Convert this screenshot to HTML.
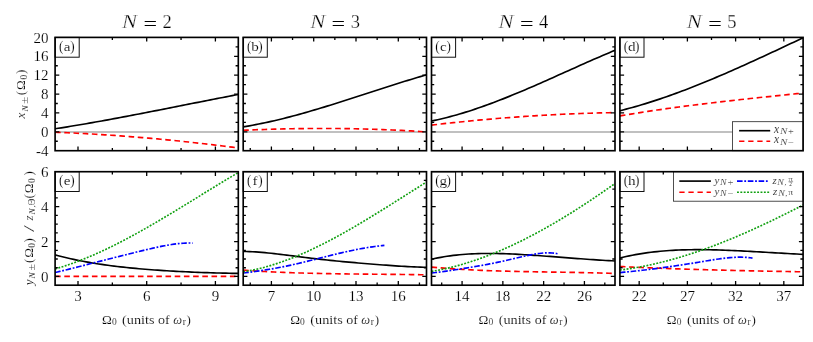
<!DOCTYPE html>
<html><head><meta charset="utf-8"><title>fig</title>
<style>html,body{margin:0;padding:0;background:#fff;}svg{display:block;will-change:transform;}</style></head>
<body>
<svg width="813" height="342" viewBox="0 0 813 342">
<rect width="813" height="342" fill="#fff"/>
<g font-family="Liberation Serif, serif" fill="#000" stroke="#fff" stroke-width="0.15">
<clipPath id="clipa"><rect x="55.1" y="37.4" width="183.2" height="113.3"/></clipPath>
<g clip-path="url(#clipa)" fill="none">
<line x1="55.1" x2="238.3" y1="132.12" y2="132.12" stroke="#c0c0c0" stroke-width="2"/>
<path d="M55.1 128.79 L58.21 128.3 L61.31 127.82 L64.42 127.32 L67.53 126.82 L70.63 126.31 L73.74 125.8 L76.85 125.28 L79.95 124.76 L83.06 124.23 L86.17 123.7 L89.27 123.16 L92.38 122.61 L95.49 122.06 L98.59 121.51 L101.7 120.95 L104.81 120.39 L107.92 119.82 L111.02 119.25 L114.13 118.67 L117.24 118.1 L120.34 117.51 L123.45 116.93 L126.56 116.34 L129.66 115.75 L132.77 115.16 L135.88 114.56 L138.98 113.96 L142.09 113.36 L145.2 112.75 L148.3 112.15 L151.41 111.54 L154.52 110.93 L157.62 110.32 L160.73 109.71 L163.84 109.1 L166.94 108.48 L170.05 107.87 L173.16 107.25 L176.26 106.63 L179.37 106.02 L182.48 105.4 L185.58 104.78 L188.69 104.17 L191.8 103.55 L194.91 102.93 L198.01 102.32 L201.12 101.7 L204.23 101.09 L207.33 100.48 L210.44 99.87 L213.55 99.26 L216.65 98.65 L219.76 98.04 L222.87 97.44 L225.97 96.83 L229.08 96.23 L232.19 95.63 L235.29 95.04 L238.4 94.45" stroke="#000" stroke-width="1.65"/>
<path d="M55.1 132.22 L58.21 132.35 L61.31 132.48 L64.42 132.61 L67.53 132.75 L70.63 132.89 L73.74 133.04 L76.85 133.2 L79.95 133.36 L83.06 133.52 L86.17 133.69 L89.27 133.86 L92.38 134.04 L95.49 134.23 L98.59 134.42 L101.7 134.61 L104.81 134.81 L107.92 135.01 L111.02 135.22 L114.13 135.43 L117.24 135.65 L120.34 135.87 L123.45 136.1 L126.56 136.34 L129.66 136.57 L132.77 136.82 L135.88 137.06 L138.98 137.32 L142.09 137.57 L145.2 137.84 L148.3 138.1 L151.41 138.38 L154.52 138.65 L157.62 138.94 L160.73 139.22 L163.84 139.52 L166.94 139.81 L170.05 140.12 L173.16 140.42 L176.26 140.73 L179.37 141.05 L182.48 141.37 L185.58 141.7 L188.69 142.03 L191.8 142.37 L194.91 142.71 L198.01 143.06 L201.12 143.41 L204.23 143.76 L207.33 144.13 L210.44 144.49 L213.55 144.86 L216.65 145.24 L219.76 145.62 L222.87 146.01 L225.97 146.4 L229.08 146.79 L232.19 147.19 L235.29 147.6 L238.4 148.01" stroke="#ff0000" stroke-width="1.65" stroke-dasharray="5.6 3.6"/>
</g>
<path d="M78 37.4 v4.2 M78 150.7 v-4.2 M146.7 37.4 v4.2 M146.7 150.7 v-4.2 M215.4 37.4 v4.2 M215.4 150.7 v-4.2 M112.35 37.4 v2.7 M112.35 150.7 v-2.7 M181.05 37.4 v2.7 M181.05 150.7 v-2.7 M55.1 131.82 h4.2 M238.3 131.82 h-4.2 M55.1 112.93 h4.2 M238.3 112.93 h-4.2 M55.1 94.05 h4.2 M238.3 94.05 h-4.2 M55.1 75.17 h4.2 M238.3 75.17 h-4.2 M55.1 56.28 h4.2 M238.3 56.28 h-4.2 M55.1 141.26 h2.7 M238.3 141.26 h-2.7 M55.1 122.38 h2.7 M238.3 122.38 h-2.7 M55.1 103.49 h2.7 M238.3 103.49 h-2.7 M55.1 84.61 h2.7 M238.3 84.61 h-2.7 M55.1 65.73 h2.7 M238.3 65.73 h-2.7 M55.1 46.84 h2.7 M238.3 46.84 h-2.7" stroke="#000" stroke-width="1.3" fill="none"/>
<rect x="55.1" y="37.4" width="24.1" height="19.8" fill="#fff" stroke="#111" stroke-width="1"/>
<text x="58.9" y="51.1" font-size="15.2" textLength="4.4" lengthAdjust="spacingAndGlyphs">(</text>
<text x="67" y="51" font-size="13.5" textLength="6.71" lengthAdjust="spacingAndGlyphs" text-anchor="middle">a</text>
<text x="70.2" y="51.1" font-size="15.2" textLength="4.4" lengthAdjust="spacingAndGlyphs">)</text>
<rect x="55.1" y="37.4" width="183.2" height="113.3" fill="none" stroke="#000" stroke-width="1.65"/>
<text x="122" y="28" font-size="19" font-style="italic" textLength="15" lengthAdjust="spacingAndGlyphs" stroke-width="0.3">N</text>
<text x="143.4" y="30" font-size="18" textLength="13.6" lengthAdjust="spacingAndGlyphs" stroke-width="0">=</text>
<text x="162.5" y="28" font-size="18.5" stroke-width="0.25">2</text>
<clipPath id="clipb"><rect x="243.2" y="37.4" width="183.3" height="113.3"/></clipPath>
<g clip-path="url(#clipb)" fill="none">
<line x1="243.2" x2="426.5" y1="132.12" y2="132.12" stroke="#c0c0c0" stroke-width="2"/>
<path d="M243.2 126.88 L246.31 126.36 L249.41 125.82 L252.52 125.25 L255.63 124.67 L258.73 124.06 L261.84 123.42 L264.95 122.77 L268.05 122.09 L271.16 121.4 L274.27 120.68 L277.37 119.95 L280.48 119.2 L283.59 118.43 L286.69 117.64 L289.8 116.84 L292.91 116.02 L296.02 115.18 L299.12 114.33 L302.23 113.47 L305.34 112.59 L308.44 111.71 L311.55 110.8 L314.66 109.89 L317.76 108.97 L320.87 108.04 L323.98 107.09 L327.08 106.14 L330.19 105.18 L333.3 104.22 L336.4 103.24 L339.51 102.26 L342.62 101.28 L345.72 100.29 L348.83 99.29 L351.94 98.29 L355.04 97.29 L358.15 96.28 L361.26 95.28 L364.36 94.27 L367.47 93.26 L370.58 92.25 L373.68 91.24 L376.79 90.23 L379.9 89.23 L383.01 88.23 L386.11 87.23 L389.22 86.23 L392.33 85.24 L395.43 84.25 L398.54 83.27 L401.65 82.3 L404.75 81.33 L407.86 80.37 L410.97 79.42 L414.07 78.47 L417.18 77.54 L420.29 76.61 L423.39 75.7 L426.5 74.8" stroke="#000" stroke-width="1.65"/>
<path d="M243.2 130.32 L246.31 130.18 L249.41 130.05 L252.52 129.92 L255.63 129.79 L258.73 129.67 L261.84 129.56 L264.95 129.45 L268.05 129.35 L271.16 129.25 L274.27 129.16 L277.37 129.07 L280.48 128.99 L283.59 128.92 L286.69 128.85 L289.8 128.78 L292.91 128.72 L296.02 128.67 L299.12 128.62 L302.23 128.58 L305.34 128.55 L308.44 128.52 L311.55 128.49 L314.66 128.47 L317.76 128.46 L320.87 128.45 L323.98 128.45 L327.08 128.46 L330.19 128.47 L333.3 128.49 L336.4 128.51 L339.51 128.54 L342.62 128.57 L345.72 128.62 L348.83 128.66 L351.94 128.72 L355.04 128.78 L358.15 128.84 L361.26 128.92 L364.36 128.99 L367.47 129.08 L370.58 129.17 L373.68 129.27 L376.79 129.37 L379.9 129.48 L383.01 129.6 L386.11 129.72 L389.22 129.85 L392.33 129.99 L395.43 130.13 L398.54 130.28 L401.65 130.44 L404.75 130.6 L407.86 130.77 L410.97 130.94 L414.07 131.13 L417.18 131.32 L420.29 131.51 L423.39 131.71 L426.5 131.92" stroke="#ff0000" stroke-width="1.65" stroke-dasharray="5.6 3.6"/>
</g>
<path d="M271.4 37.4 v4.2 M271.4 150.7 v-4.2 M313.7 37.4 v4.2 M313.7 150.7 v-4.2 M356 37.4 v4.2 M356 150.7 v-4.2 M398.3 37.4 v4.2 M398.3 150.7 v-4.2 M250.25 37.4 v2.7 M250.25 150.7 v-2.7 M292.55 37.4 v2.7 M292.55 150.7 v-2.7 M334.85 37.4 v2.7 M334.85 150.7 v-2.7 M377.15 37.4 v2.7 M377.15 150.7 v-2.7 M419.45 37.4 v2.7 M419.45 150.7 v-2.7 M243.2 131.82 h4.2 M426.5 131.82 h-4.2 M243.2 112.93 h4.2 M426.5 112.93 h-4.2 M243.2 94.05 h4.2 M426.5 94.05 h-4.2 M243.2 75.17 h4.2 M426.5 75.17 h-4.2 M243.2 56.28 h4.2 M426.5 56.28 h-4.2 M243.2 141.26 h2.7 M426.5 141.26 h-2.7 M243.2 122.38 h2.7 M426.5 122.38 h-2.7 M243.2 103.49 h2.7 M426.5 103.49 h-2.7 M243.2 84.61 h2.7 M426.5 84.61 h-2.7 M243.2 65.73 h2.7 M426.5 65.73 h-2.7 M243.2 46.84 h2.7 M426.5 46.84 h-2.7" stroke="#000" stroke-width="1.3" fill="none"/>
<rect x="243.2" y="37.4" width="24.1" height="19.8" fill="#fff" stroke="#111" stroke-width="1"/>
<text x="247" y="51.1" font-size="15.2" textLength="4.4" lengthAdjust="spacingAndGlyphs">(</text>
<text x="255.1" y="51" font-size="13.5" textLength="7.56" lengthAdjust="spacingAndGlyphs" text-anchor="middle">b</text>
<text x="258.3" y="51.1" font-size="15.2" textLength="4.4" lengthAdjust="spacingAndGlyphs">)</text>
<rect x="243.2" y="37.4" width="183.3" height="113.3" fill="none" stroke="#000" stroke-width="1.65"/>
<text x="310.15" y="28" font-size="19" font-style="italic" textLength="15" lengthAdjust="spacingAndGlyphs" stroke-width="0.3">N</text>
<text x="331.55" y="30" font-size="18" textLength="13.6" lengthAdjust="spacingAndGlyphs" stroke-width="0">=</text>
<text x="350.65" y="28" font-size="18.5" stroke-width="0.25">3</text>
<clipPath id="clipc"><rect x="431.5" y="37.4" width="183.5" height="113.3"/></clipPath>
<g clip-path="url(#clipc)" fill="none">
<line x1="431.5" x2="615" y1="132.12" y2="132.12" stroke="#c0c0c0" stroke-width="2"/>
<path d="M431.5 121.03 L434.61 120.39 L437.72 119.71 L440.83 119 L443.94 118.25 L447.05 117.47 L450.16 116.66 L453.27 115.82 L456.38 114.95 L459.49 114.05 L462.6 113.12 L465.71 112.16 L468.82 111.18 L471.93 110.17 L475.04 109.14 L478.15 108.08 L481.26 107 L484.37 105.9 L487.48 104.78 L490.59 103.63 L493.7 102.47 L496.81 101.28 L499.92 100.08 L503.03 98.86 L506.14 97.63 L509.25 96.37 L512.36 95.11 L515.47 93.83 L518.58 92.53 L521.69 91.23 L524.81 89.91 L527.92 88.58 L531.03 87.24 L534.14 85.89 L537.25 84.53 L540.36 83.17 L543.47 81.8 L546.58 80.42 L549.69 79.04 L552.8 77.65 L555.91 76.26 L559.02 74.87 L562.13 73.47 L565.24 72.08 L568.35 70.68 L571.46 69.28 L574.57 67.89 L577.68 66.5 L580.79 65.11 L583.9 63.73 L587.01 62.35 L590.12 60.97 L593.23 59.6 L596.34 58.24 L599.45 56.89 L602.56 55.55 L605.67 54.21 L608.78 52.89 L611.89 51.58 L615 50.28" stroke="#000" stroke-width="1.65"/>
<path d="M431.5 125.12 L434.61 124.76 L437.72 124.4 L440.83 124.04 L443.94 123.69 L447.05 123.35 L450.16 123.01 L453.27 122.68 L456.38 122.35 L459.49 122.03 L462.6 121.71 L465.71 121.4 L468.82 121.09 L471.93 120.78 L475.04 120.49 L478.15 120.19 L481.26 119.91 L484.37 119.63 L487.48 119.35 L490.59 119.08 L493.7 118.81 L496.81 118.55 L499.92 118.29 L503.03 118.04 L506.14 117.8 L509.25 117.56 L512.36 117.32 L515.47 117.09 L518.58 116.87 L521.69 116.65 L524.81 116.44 L527.92 116.23 L531.03 116.02 L534.14 115.83 L537.25 115.63 L540.36 115.45 L543.47 115.27 L546.58 115.09 L549.69 114.92 L552.8 114.75 L555.91 114.59 L559.02 114.44 L562.13 114.29 L565.24 114.15 L568.35 114.01 L571.46 113.88 L574.57 113.75 L577.68 113.63 L580.79 113.51 L583.9 113.4 L587.01 113.3 L590.12 113.2 L593.23 113.1 L596.34 113.01 L599.45 112.93 L602.56 112.85 L605.67 112.78 L608.78 112.72 L611.89 112.66 L615 112.6" stroke="#ff0000" stroke-width="1.65" stroke-dasharray="5.6 3.6"/>
</g>
<path d="M462.08 37.4 v4.2 M462.08 150.7 v-4.2 M502.86 37.4 v4.2 M502.86 150.7 v-4.2 M543.64 37.4 v4.2 M543.64 150.7 v-4.2 M584.42 37.4 v4.2 M584.42 150.7 v-4.2 M441.69 37.4 v2.7 M441.69 150.7 v-2.7 M482.47 37.4 v2.7 M482.47 150.7 v-2.7 M523.25 37.4 v2.7 M523.25 150.7 v-2.7 M564.03 37.4 v2.7 M564.03 150.7 v-2.7 M604.81 37.4 v2.7 M604.81 150.7 v-2.7 M431.5 131.82 h4.2 M615 131.82 h-4.2 M431.5 112.93 h4.2 M615 112.93 h-4.2 M431.5 94.05 h4.2 M615 94.05 h-4.2 M431.5 75.17 h4.2 M615 75.17 h-4.2 M431.5 56.28 h4.2 M615 56.28 h-4.2 M431.5 141.26 h2.7 M615 141.26 h-2.7 M431.5 122.38 h2.7 M615 122.38 h-2.7 M431.5 103.49 h2.7 M615 103.49 h-2.7 M431.5 84.61 h2.7 M615 84.61 h-2.7 M431.5 65.73 h2.7 M615 65.73 h-2.7 M431.5 46.84 h2.7 M615 46.84 h-2.7" stroke="#000" stroke-width="1.3" fill="none"/>
<rect x="431.5" y="37.4" width="24.1" height="19.8" fill="#fff" stroke="#111" stroke-width="1"/>
<text x="435.3" y="51.1" font-size="15.2" textLength="4.4" lengthAdjust="spacingAndGlyphs">(</text>
<text x="443.4" y="51" font-size="13.5" textLength="6.71" lengthAdjust="spacingAndGlyphs" text-anchor="middle">c</text>
<text x="446.6" y="51.1" font-size="15.2" textLength="4.4" lengthAdjust="spacingAndGlyphs">)</text>
<rect x="431.5" y="37.4" width="183.5" height="113.3" fill="none" stroke="#000" stroke-width="1.65"/>
<text x="498.55" y="28" font-size="19" font-style="italic" textLength="15" lengthAdjust="spacingAndGlyphs" stroke-width="0.3">N</text>
<text x="519.95" y="30" font-size="18" textLength="13.6" lengthAdjust="spacingAndGlyphs" stroke-width="0">=</text>
<text x="539.05" y="28" font-size="18.5" stroke-width="0.25">4</text>
<clipPath id="clipd"><rect x="619.9" y="37.4" width="183.2" height="113.3"/></clipPath>
<g clip-path="url(#clipd)" fill="none">
<line x1="619.9" x2="803.1" y1="132.12" y2="132.12" stroke="#c0c0c0" stroke-width="2"/>
<path d="M619.9 110.71 L623.01 109.93 L626.11 109.13 L629.22 108.31 L632.32 107.46 L635.43 106.59 L638.53 105.7 L641.64 104.78 L644.74 103.85 L647.85 102.89 L650.95 101.91 L654.06 100.91 L657.16 99.89 L660.27 98.86 L663.37 97.8 L666.48 96.73 L669.58 95.63 L672.69 94.52 L675.79 93.4 L678.9 92.25 L682 91.09 L685.11 89.92 L688.21 88.73 L691.32 87.52 L694.42 86.3 L697.53 85.06 L700.63 83.81 L703.74 82.55 L706.84 81.28 L709.95 79.99 L713.05 78.69 L716.16 77.38 L719.26 76.06 L722.37 74.73 L725.47 73.39 L728.58 72.03 L731.68 70.67 L734.79 69.3 L737.89 67.92 L741 66.54 L744.1 65.14 L747.21 63.74 L750.31 62.33 L753.42 60.92 L756.52 59.5 L759.63 58.07 L762.73 56.64 L765.84 55.21 L768.94 53.77 L772.05 52.33 L775.15 50.88 L778.26 49.43 L781.36 47.98 L784.47 46.53 L787.57 45.07 L790.68 43.62 L793.78 42.16 L796.89 40.71 L799.99 39.25 L803.1 37.79" stroke="#000" stroke-width="1.65"/>
<path d="M619.9 115.91 L623.01 115.38 L626.11 114.86 L629.22 114.35 L632.32 113.84 L635.43 113.34 L638.53 112.85 L641.64 112.36 L644.74 111.88 L647.85 111.41 L650.95 110.94 L654.06 110.48 L657.16 110.03 L660.27 109.58 L663.37 109.13 L666.48 108.69 L669.58 108.26 L672.69 107.84 L675.79 107.41 L678.9 107 L682 106.58 L685.11 106.18 L688.21 105.78 L691.32 105.38 L694.42 104.98 L697.53 104.6 L700.63 104.21 L703.74 103.83 L706.84 103.45 L709.95 103.08 L713.05 102.71 L716.16 102.35 L719.26 101.98 L722.37 101.62 L725.47 101.27 L728.58 100.92 L731.68 100.57 L734.79 100.22 L737.89 99.88 L741 99.54 L744.1 99.2 L747.21 98.86 L750.31 98.53 L753.42 98.19 L756.52 97.86 L759.63 97.54 L762.73 97.21 L765.84 96.88 L768.94 96.56 L772.05 96.24 L775.15 95.92 L778.26 95.6 L781.36 95.28 L784.47 94.96 L787.57 94.64 L790.68 94.33 L793.78 94.01 L796.89 93.69 L799.99 93.38 L803.1 93.06" stroke="#ff0000" stroke-width="1.65" stroke-dasharray="5.6 3.6"/>
</g>
<path d="M639.18 37.4 v4.2 M639.18 150.7 v-4.2 M687.39 37.4 v4.2 M687.39 150.7 v-4.2 M735.61 37.4 v4.2 M735.61 150.7 v-4.2 M783.82 37.4 v4.2 M783.82 150.7 v-4.2 M663.29 37.4 v2.7 M663.29 150.7 v-2.7 M711.5 37.4 v2.7 M711.5 150.7 v-2.7 M759.71 37.4 v2.7 M759.71 150.7 v-2.7 M619.9 131.82 h4.2 M803.1 131.82 h-4.2 M619.9 112.93 h4.2 M803.1 112.93 h-4.2 M619.9 94.05 h4.2 M803.1 94.05 h-4.2 M619.9 75.17 h4.2 M803.1 75.17 h-4.2 M619.9 56.28 h4.2 M803.1 56.28 h-4.2 M619.9 141.26 h2.7 M803.1 141.26 h-2.7 M619.9 122.38 h2.7 M803.1 122.38 h-2.7 M619.9 103.49 h2.7 M803.1 103.49 h-2.7 M619.9 84.61 h2.7 M803.1 84.61 h-2.7 M619.9 65.73 h2.7 M803.1 65.73 h-2.7 M619.9 46.84 h2.7 M803.1 46.84 h-2.7" stroke="#000" stroke-width="1.3" fill="none"/>
<rect x="732.4" y="121.7" width="70.7" height="29" fill="#fff" stroke="#222" stroke-width="0.8"/>
<rect x="619.9" y="37.4" width="24.1" height="19.8" fill="#fff" stroke="#111" stroke-width="1"/>
<text x="623.7" y="51.1" font-size="15.2" textLength="4.4" lengthAdjust="spacingAndGlyphs">(</text>
<text x="631.8" y="51" font-size="13.5" textLength="7.56" lengthAdjust="spacingAndGlyphs" text-anchor="middle">d</text>
<text x="635" y="51.1" font-size="15.2" textLength="4.4" lengthAdjust="spacingAndGlyphs">)</text>
<rect x="619.9" y="37.4" width="183.2" height="113.3" fill="none" stroke="#000" stroke-width="1.65"/>
<text x="686.8" y="28" font-size="19" font-style="italic" textLength="15" lengthAdjust="spacingAndGlyphs" stroke-width="0.3">N</text>
<text x="708.2" y="30" font-size="18" textLength="13.6" lengthAdjust="spacingAndGlyphs" stroke-width="0">=</text>
<text x="727.3" y="28" font-size="18.5" stroke-width="0.25">5</text>
<text x="48.6" y="155.8" font-size="15" text-anchor="end">-4</text>
<text x="48.6" y="136.92" font-size="15" text-anchor="end">0</text>
<text x="48.6" y="118.03" font-size="15" text-anchor="end">4</text>
<text x="48.6" y="99.15" font-size="15" text-anchor="end">8</text>
<text x="48.6" y="80.27" font-size="15" text-anchor="end">12</text>
<text x="48.6" y="61.38" font-size="15" text-anchor="end">16</text>
<text x="48.6" y="42.5" font-size="15" text-anchor="end">20</text>
<clipPath id="clipe"><rect x="55.1" y="171.7" width="183.2" height="113.5"/></clipPath>
<g clip-path="url(#clipe)" fill="none">
<path d="M55.1 254.92 L58.21 255.75 L61.31 256.55 L64.42 257.31 L67.53 258.05 L70.63 258.75 L73.74 259.43 L76.85 260.08 L79.95 260.71 L83.06 261.3 L86.17 261.88 L89.27 262.43 L92.38 262.96 L95.49 263.46 L98.59 263.95 L101.7 264.41 L104.81 264.86 L107.92 265.29 L111.02 265.7 L114.13 266.09 L117.24 266.47 L120.34 266.83 L123.45 267.17 L126.56 267.51 L129.66 267.82 L132.77 268.13 L135.88 268.42 L138.98 268.7 L142.09 268.97 L145.2 269.23 L148.3 269.48 L151.41 269.72 L154.52 269.95 L157.62 270.17 L160.73 270.38 L163.84 270.58 L166.94 270.78 L170.05 270.97 L173.16 271.15 L176.26 271.32 L179.37 271.48 L182.48 271.64 L185.58 271.79 L188.69 271.94 L191.8 272.08 L194.91 272.21 L198.01 272.33 L201.12 272.45 L204.23 272.57 L207.33 272.68 L210.44 272.78 L213.55 272.87 L216.65 272.96 L219.76 273.05 L222.87 273.12 L225.97 273.19 L229.08 273.25 L232.19 273.31 L235.29 273.36 L238.4 273.4" stroke="#000" stroke-width="1.65"/>
<path d="M55.1 276.4 L58.21 276.4 L61.31 276.4 L64.42 276.4 L67.53 276.4 L70.63 276.4 L73.74 276.4 L76.85 276.4 L79.95 276.4 L83.06 276.4 L86.17 276.4 L89.27 276.4 L92.38 276.4 L95.49 276.4 L98.59 276.4 L101.7 276.4 L104.81 276.4 L107.92 276.4 L111.02 276.4 L114.13 276.4 L117.24 276.4 L120.34 276.4 L123.45 276.4 L126.56 276.4 L129.66 276.4 L132.77 276.4 L135.88 276.4 L138.98 276.4 L142.09 276.4 L145.2 276.4 L148.3 276.4 L151.41 276.4 L154.52 276.4 L157.62 276.4 L160.73 276.4 L163.84 276.4 L166.94 276.4 L170.05 276.4 L173.16 276.4 L176.26 276.4 L179.37 276.4 L182.48 276.4 L185.58 276.4 L188.69 276.4 L191.8 276.4 L194.91 276.4 L198.01 276.4 L201.12 276.4 L204.23 276.4 L207.33 276.4 L210.44 276.4 L213.55 276.4 L216.65 276.4 L219.76 276.4 L222.87 276.4 L225.97 276.4 L229.08 276.4 L232.19 276.4 L235.29 276.4 L238.4 276.4" stroke="#ff0000" stroke-width="1.65" stroke-dasharray="5.6 3.6"/>
<path d="M55.1 272.48 L57.43 271.96 L59.76 271.42 L62.09 270.87 L64.42 270.3 L66.75 269.73 L69.08 269.16 L71.41 268.57 L73.74 267.99 L76.07 267.39 L78.41 266.8 L80.74 266.2 L83.07 265.61 L85.4 265.01 L87.73 264.41 L90.06 263.81 L92.39 263.21 L94.72 262.61 L97.05 262.02 L99.38 261.42 L101.71 260.83 L104.04 260.23 L106.37 259.64 L108.7 259.05 L111.03 258.46 L113.36 257.87 L115.69 257.28 L118.02 256.69 L120.35 256.1 L122.68 255.52 L125.02 254.93 L127.35 254.35 L129.68 253.77 L132.01 253.19 L134.34 252.61 L136.67 252.03 L139 251.46 L141.33 250.9 L143.66 250.34 L145.99 249.78 L148.32 249.23 L150.65 248.69 L152.98 248.16 L155.31 247.65 L157.64 247.14 L159.97 246.65 L162.3 246.18 L164.63 245.73 L166.96 245.3 L169.29 244.9 L171.63 244.52 L173.96 244.18 L176.29 243.87 L178.62 243.6 L180.95 243.38 L183.28 243.2 L185.61 243.08 L187.94 243.01 L190.27 243.01 L192.6 243.07" stroke="#0000ff" stroke-width="1.65" stroke-dasharray="5.6 1.7 1.8 1.7"/>
<path d="M55.1 268.9 L58.21 268 L61.31 267.06 L64.42 266.08 L67.53 265.05 L70.63 263.98 L73.74 262.88 L76.85 261.73 L79.95 260.55 L83.06 259.33 L86.17 258.07 L89.27 256.78 L92.38 255.45 L95.49 254.09 L98.59 252.7 L101.7 251.28 L104.81 249.83 L107.92 248.35 L111.02 246.84 L114.13 245.3 L117.24 243.73 L120.34 242.15 L123.45 240.53 L126.56 238.89 L129.66 237.24 L132.77 235.55 L135.88 233.85 L138.98 232.13 L142.09 230.39 L145.2 228.63 L148.3 226.86 L151.41 225.07 L154.52 223.26 L157.62 221.45 L160.73 219.61 L163.84 217.77 L166.94 215.92 L170.05 214.05 L173.16 212.18 L176.26 210.3 L179.37 208.41 L182.48 206.51 L185.58 204.62 L188.69 202.71 L191.8 200.81 L194.91 198.9 L198.01 196.99 L201.12 195.08 L204.23 193.17 L207.33 191.26 L210.44 189.35 L213.55 187.45 L216.65 185.55 L219.76 183.66 L222.87 181.78 L225.97 179.9 L229.08 178.03 L232.19 176.17 L235.29 174.32 L238.4 172.48" stroke="#10a010" stroke-width="1.65" stroke-dasharray="1.9 1.46"/>
</g>
<path d="M78 171.7 v4.2 M78 285.2 v-4.2 M146.7 171.7 v4.2 M146.7 285.2 v-4.2 M215.4 171.7 v4.2 M215.4 285.2 v-4.2 M112.35 171.7 v2.7 M112.35 285.2 v-2.7 M181.05 171.7 v2.7 M181.05 285.2 v-2.7 M55.1 276.47 h4.2 M238.3 276.47 h-4.2 M55.1 241.55 h4.2 M238.3 241.55 h-4.2 M55.1 206.62 h4.2 M238.3 206.62 h-4.2 M55.1 267.74 h2.7 M238.3 267.74 h-2.7 M55.1 259.01 h2.7 M238.3 259.01 h-2.7 M55.1 250.28 h2.7 M238.3 250.28 h-2.7 M55.1 232.82 h2.7 M238.3 232.82 h-2.7 M55.1 224.08 h2.7 M238.3 224.08 h-2.7 M55.1 215.35 h2.7 M238.3 215.35 h-2.7 M55.1 197.89 h2.7 M238.3 197.89 h-2.7 M55.1 189.16 h2.7 M238.3 189.16 h-2.7 M55.1 180.43 h2.7 M238.3 180.43 h-2.7" stroke="#000" stroke-width="1.3" fill="none"/>
<rect x="55.1" y="171.7" width="24.1" height="19.8" fill="#fff" stroke="#111" stroke-width="1"/>
<text x="58.9" y="185.4" font-size="15.2" textLength="4.4" lengthAdjust="spacingAndGlyphs">(</text>
<text x="67" y="185.3" font-size="13.5" textLength="6.71" lengthAdjust="spacingAndGlyphs" text-anchor="middle">e</text>
<text x="70.2" y="185.4" font-size="15.2" textLength="4.4" lengthAdjust="spacingAndGlyphs">)</text>
<rect x="55.1" y="171.7" width="183.2" height="113.5" fill="none" stroke="#000" stroke-width="1.65"/>
<text x="78" y="301.2" font-size="15" text-anchor="middle">3</text>
<text x="146.7" y="301.2" font-size="15" text-anchor="middle">6</text>
<text x="215.4" y="301.2" font-size="15" text-anchor="middle">9</text>
<text x="102" y="323.5" font-size="13.2">Ω</text>
<text x="111.9" y="325.3" font-size="9.5">0</text>
<text x="122.1" y="323.5" font-size="13" textLength="32.5" lengthAdjust="spacingAndGlyphs">(units</text>
<text x="158.1" y="323.5" font-size="13" textLength="11.7" lengthAdjust="spacingAndGlyphs">of</text>
<text x="173.2" y="323.5" font-size="13" font-style="italic" textLength="8.8" lengthAdjust="spacingAndGlyphs">ω</text>
<text x="182.7" y="325.3" font-size="9.5">r</text>
<text x="186.6" y="323.5" font-size="13">)</text>
<clipPath id="clipf"><rect x="243.2" y="171.7" width="183.3" height="113.5"/></clipPath>
<g clip-path="url(#clipf)" fill="none">
<path d="M243.2 251.48 L246.31 251.5 L249.41 251.59 L252.52 251.72 L255.63 251.9 L258.73 252.12 L261.84 252.37 L264.95 252.66 L268.05 252.97 L271.16 253.3 L274.27 253.65 L277.37 254.01 L280.48 254.39 L283.59 254.77 L286.69 255.16 L289.8 255.55 L292.91 255.94 L296.02 256.34 L299.12 256.73 L302.23 257.11 L305.34 257.5 L308.44 257.88 L311.55 258.25 L314.66 258.61 L317.76 258.97 L320.87 259.32 L323.98 259.66 L327.08 260 L330.19 260.33 L333.3 260.65 L336.4 260.96 L339.51 261.26 L342.62 261.56 L345.72 261.85 L348.83 262.14 L351.94 262.42 L355.04 262.69 L358.15 262.96 L361.26 263.23 L364.36 263.49 L367.47 263.74 L370.58 263.99 L373.68 264.24 L376.79 264.49 L379.9 264.73 L383.01 264.96 L386.11 265.19 L389.22 265.42 L392.33 265.64 L395.43 265.85 L398.54 266.06 L401.65 266.25 L404.75 266.44 L407.86 266.61 L410.97 266.77 L414.07 266.92 L417.18 267.04 L420.29 267.15 L423.39 267.23 L426.5 267.28" stroke="#000" stroke-width="1.65"/>
<path d="M243.2 270.1 L246.31 270.32 L249.41 270.54 L252.52 270.75 L255.63 270.95 L258.73 271.14 L261.84 271.32 L264.95 271.5 L268.05 271.66 L271.16 271.82 L274.27 271.97 L277.37 272.12 L280.48 272.26 L283.59 272.39 L286.69 272.51 L289.8 272.63 L292.91 272.74 L296.02 272.85 L299.12 272.95 L302.23 273.04 L305.34 273.13 L308.44 273.21 L311.55 273.29 L314.66 273.37 L317.76 273.44 L320.87 273.5 L323.98 273.57 L327.08 273.62 L330.19 273.68 L333.3 273.73 L336.4 273.78 L339.51 273.83 L342.62 273.87 L345.72 273.91 L348.83 273.95 L351.94 273.98 L355.04 274.02 L358.15 274.05 L361.26 274.08 L364.36 274.11 L367.47 274.14 L370.58 274.17 L373.68 274.2 L376.79 274.23 L379.9 274.25 L383.01 274.28 L386.11 274.31 L389.22 274.34 L392.33 274.37 L395.43 274.4 L398.54 274.43 L401.65 274.46 L404.75 274.5 L407.86 274.53 L410.97 274.57 L414.07 274.61 L417.18 274.66 L420.29 274.7 L423.39 274.75 L426.5 274.81" stroke="#ff0000" stroke-width="1.65" stroke-dasharray="5.6 3.6"/>
<path d="M243.2 273.02 L245.59 272.72 L247.99 272.41 L250.38 272.09 L252.77 271.77 L255.17 271.45 L257.56 271.11 L259.95 270.77 L262.35 270.41 L264.74 270.04 L267.13 269.66 L269.53 269.27 L271.92 268.86 L274.31 268.44 L276.71 268 L279.1 267.55 L281.49 267.09 L283.88 266.61 L286.28 266.12 L288.67 265.61 L291.06 265.09 L293.46 264.56 L295.85 264.02 L298.24 263.47 L300.64 262.9 L303.03 262.33 L305.42 261.75 L307.82 261.16 L310.21 260.57 L312.6 259.97 L315 259.37 L317.39 258.76 L319.78 258.15 L322.18 257.55 L324.57 256.94 L326.96 256.34 L329.36 255.74 L331.75 255.14 L334.14 254.55 L336.54 253.97 L338.93 253.39 L341.32 252.83 L343.72 252.27 L346.11 251.73 L348.5 251.2 L350.89 250.69 L353.29 250.19 L355.68 249.7 L358.07 249.23 L360.47 248.78 L362.86 248.35 L365.25 247.94 L367.65 247.55 L370.04 247.17 L372.43 246.82 L374.83 246.49 L377.22 246.18 L379.61 245.89 L382.01 245.62 L384.4 245.37" stroke="#0000ff" stroke-width="1.65" stroke-dasharray="5.6 1.7 1.8 1.7"/>
<path d="M243.2 271.81 L246.31 271.3 L249.41 270.74 L252.52 270.13 L255.63 269.46 L258.73 268.74 L261.84 267.97 L264.95 267.15 L268.05 266.28 L271.16 265.36 L274.27 264.4 L277.37 263.39 L280.48 262.33 L283.59 261.23 L286.69 260.09 L289.8 258.91 L292.91 257.69 L296.02 256.43 L299.12 255.13 L302.23 253.79 L305.34 252.42 L308.44 251.01 L311.55 249.57 L314.66 248.09 L317.76 246.58 L320.87 245.05 L323.98 243.48 L327.08 241.88 L330.19 240.26 L333.3 238.61 L336.4 236.93 L339.51 235.23 L342.62 233.51 L345.72 231.76 L348.83 230 L351.94 228.21 L355.04 226.4 L358.15 224.58 L361.26 222.74 L364.36 220.88 L367.47 219.01 L370.58 217.12 L373.68 215.22 L376.79 213.31 L379.9 211.39 L383.01 209.46 L386.11 207.52 L389.22 205.58 L392.33 203.62 L395.43 201.67 L398.54 199.7 L401.65 197.74 L404.75 195.77 L407.86 193.8 L410.97 191.83 L414.07 189.86 L417.18 187.9 L420.29 185.94 L423.39 183.98 L426.5 182.02" stroke="#10a010" stroke-width="1.65" stroke-dasharray="1.9 1.46"/>
</g>
<path d="M271.4 171.7 v4.2 M271.4 285.2 v-4.2 M313.7 171.7 v4.2 M313.7 285.2 v-4.2 M356 171.7 v4.2 M356 285.2 v-4.2 M398.3 171.7 v4.2 M398.3 285.2 v-4.2 M250.25 171.7 v2.7 M250.25 285.2 v-2.7 M292.55 171.7 v2.7 M292.55 285.2 v-2.7 M334.85 171.7 v2.7 M334.85 285.2 v-2.7 M377.15 171.7 v2.7 M377.15 285.2 v-2.7 M419.45 171.7 v2.7 M419.45 285.2 v-2.7 M243.2 276.47 h4.2 M426.5 276.47 h-4.2 M243.2 241.55 h4.2 M426.5 241.55 h-4.2 M243.2 206.62 h4.2 M426.5 206.62 h-4.2 M243.2 267.74 h2.7 M426.5 267.74 h-2.7 M243.2 259.01 h2.7 M426.5 259.01 h-2.7 M243.2 250.28 h2.7 M426.5 250.28 h-2.7 M243.2 232.82 h2.7 M426.5 232.82 h-2.7 M243.2 224.08 h2.7 M426.5 224.08 h-2.7 M243.2 215.35 h2.7 M426.5 215.35 h-2.7 M243.2 197.89 h2.7 M426.5 197.89 h-2.7 M243.2 189.16 h2.7 M426.5 189.16 h-2.7 M243.2 180.43 h2.7 M426.5 180.43 h-2.7" stroke="#000" stroke-width="1.3" fill="none"/>
<rect x="243.2" y="171.7" width="24.1" height="19.8" fill="#fff" stroke="#111" stroke-width="1"/>
<text x="247" y="185.4" font-size="15.2" textLength="4.4" lengthAdjust="spacingAndGlyphs">(</text>
<text x="255.1" y="185.3" font-size="13.5" textLength="5.03" lengthAdjust="spacingAndGlyphs" text-anchor="middle">f</text>
<text x="258.3" y="185.4" font-size="15.2" textLength="4.4" lengthAdjust="spacingAndGlyphs">)</text>
<rect x="243.2" y="171.7" width="183.3" height="113.5" fill="none" stroke="#000" stroke-width="1.65"/>
<text x="271.4" y="301.2" font-size="15" text-anchor="middle">7</text>
<text x="313.7" y="301.2" font-size="15" text-anchor="middle">10</text>
<text x="356" y="301.2" font-size="15" text-anchor="middle">13</text>
<text x="398.3" y="301.2" font-size="15" text-anchor="middle">16</text>
<text x="290.15" y="323.5" font-size="13.2">Ω</text>
<text x="300.05" y="325.3" font-size="9.5">0</text>
<text x="310.25" y="323.5" font-size="13" textLength="32.5" lengthAdjust="spacingAndGlyphs">(units</text>
<text x="346.25" y="323.5" font-size="13" textLength="11.7" lengthAdjust="spacingAndGlyphs">of</text>
<text x="361.35" y="323.5" font-size="13" font-style="italic" textLength="8.8" lengthAdjust="spacingAndGlyphs">ω</text>
<text x="370.85" y="325.3" font-size="9.5">r</text>
<text x="374.75" y="323.5" font-size="13">)</text>
<clipPath id="clipg"><rect x="431.5" y="171.7" width="183.5" height="113.5"/></clipPath>
<g clip-path="url(#clipg)" fill="none">
<path d="M431.5 259.25 L434.61 258.55 L437.72 257.91 L440.83 257.32 L443.94 256.78 L447.05 256.29 L450.16 255.84 L453.27 255.44 L456.38 255.09 L459.49 254.77 L462.6 254.49 L465.71 254.25 L468.82 254.04 L471.93 253.87 L475.04 253.73 L478.15 253.63 L481.26 253.55 L484.37 253.5 L487.48 253.47 L490.59 253.47 L493.7 253.49 L496.81 253.54 L499.92 253.6 L503.03 253.69 L506.14 253.79 L509.25 253.91 L512.36 254.04 L515.47 254.19 L518.58 254.35 L521.69 254.52 L524.81 254.71 L527.92 254.9 L531.03 255.1 L534.14 255.31 L537.25 255.53 L540.36 255.75 L543.47 255.98 L546.58 256.21 L549.69 256.44 L552.8 256.68 L555.91 256.92 L559.02 257.16 L562.13 257.4 L565.24 257.64 L568.35 257.87 L571.46 258.11 L574.57 258.34 L577.68 258.57 L580.79 258.8 L583.9 259.03 L587.01 259.24 L590.12 259.46 L593.23 259.67 L596.34 259.87 L599.45 260.07 L602.56 260.26 L605.67 260.45 L608.78 260.63 L611.89 260.8 L615 260.97" stroke="#000" stroke-width="1.65"/>
<path d="M431.5 267.11 L434.61 267.39 L437.72 267.66 L440.83 267.92 L443.94 268.16 L447.05 268.4 L450.16 268.62 L453.27 268.84 L456.38 269.04 L459.49 269.23 L462.6 269.42 L465.71 269.59 L468.82 269.76 L471.93 269.92 L475.04 270.07 L478.15 270.21 L481.26 270.35 L484.37 270.47 L487.48 270.59 L490.59 270.71 L493.7 270.81 L496.81 270.92 L499.92 271.01 L503.03 271.1 L506.14 271.19 L509.25 271.27 L512.36 271.35 L515.47 271.42 L518.58 271.49 L521.69 271.55 L524.81 271.61 L527.92 271.67 L531.03 271.73 L534.14 271.78 L537.25 271.84 L540.36 271.89 L543.47 271.94 L546.58 271.99 L549.69 272.04 L552.8 272.09 L555.91 272.13 L559.02 272.18 L562.13 272.23 L565.24 272.28 L568.35 272.34 L571.46 272.39 L574.57 272.44 L577.68 272.5 L580.79 272.56 L583.9 272.63 L587.01 272.69 L590.12 272.76 L593.23 272.84 L596.34 272.92 L599.45 273 L602.56 273.09 L605.67 273.18 L608.78 273.28 L611.89 273.38 L615 273.49" stroke="#ff0000" stroke-width="1.65" stroke-dasharray="5.6 3.6"/>
<path d="M431.5 272.99 L433.65 272.77 L435.81 272.52 L437.96 272.26 L440.12 271.99 L442.27 271.7 L444.43 271.4 L446.58 271.09 L448.73 270.77 L450.89 270.45 L453.04 270.12 L455.2 269.79 L457.35 269.46 L459.51 269.12 L461.66 268.77 L463.81 268.43 L465.97 268.08 L468.12 267.73 L470.28 267.37 L472.43 267.01 L474.58 266.65 L476.74 266.28 L478.89 265.9 L481.05 265.52 L483.2 265.13 L485.36 264.73 L487.51 264.32 L489.66 263.91 L491.82 263.48 L493.97 263.05 L496.13 262.61 L498.28 262.16 L500.44 261.7 L502.59 261.23 L504.74 260.75 L506.9 260.26 L509.05 259.77 L511.21 259.27 L513.36 258.77 L515.52 258.26 L517.67 257.76 L519.82 257.26 L521.98 256.76 L524.13 256.28 L526.29 255.8 L528.44 255.34 L530.59 254.91 L532.75 254.49 L534.9 254.11 L537.06 253.77 L539.21 253.47 L541.37 253.22 L543.52 253.02 L545.67 252.89 L547.83 252.84 L549.98 252.87 L552.14 252.99 L554.29 253.21 L556.45 253.55 L558.6 254.01" stroke="#0000ff" stroke-width="1.65" stroke-dasharray="5.6 1.7 1.8 1.7"/>
<path d="M431.5 271.39 L434.61 270.85 L437.72 270.27 L440.83 269.65 L443.94 269 L447.05 268.3 L450.16 267.56 L453.27 266.78 L456.38 265.97 L459.49 265.11 L462.6 264.22 L465.71 263.29 L468.82 262.33 L471.93 261.33 L475.04 260.29 L478.15 259.22 L481.26 258.11 L484.37 256.97 L487.48 255.79 L490.59 254.58 L493.7 253.34 L496.81 252.06 L499.92 250.75 L503.03 249.41 L506.14 248.03 L509.25 246.63 L512.36 245.2 L515.47 243.73 L518.58 242.24 L521.69 240.71 L524.81 239.16 L527.92 237.58 L531.03 235.97 L534.14 234.33 L537.25 232.67 L540.36 230.97 L543.47 229.26 L546.58 227.51 L549.69 225.74 L552.8 223.95 L555.91 222.13 L559.02 220.29 L562.13 218.42 L565.24 216.53 L568.35 214.62 L571.46 212.68 L574.57 210.72 L577.68 208.75 L580.79 206.75 L583.9 204.73 L587.01 202.68 L590.12 200.62 L593.23 198.54 L596.34 196.44 L599.45 194.33 L602.56 192.19 L605.67 190.04 L608.78 187.87 L611.89 185.68 L615 183.48" stroke="#10a010" stroke-width="1.65" stroke-dasharray="1.9 1.46"/>
</g>
<path d="M462.08 171.7 v4.2 M462.08 285.2 v-4.2 M502.86 171.7 v4.2 M502.86 285.2 v-4.2 M543.64 171.7 v4.2 M543.64 285.2 v-4.2 M584.42 171.7 v4.2 M584.42 285.2 v-4.2 M441.69 171.7 v2.7 M441.69 285.2 v-2.7 M482.47 171.7 v2.7 M482.47 285.2 v-2.7 M523.25 171.7 v2.7 M523.25 285.2 v-2.7 M564.03 171.7 v2.7 M564.03 285.2 v-2.7 M604.81 171.7 v2.7 M604.81 285.2 v-2.7 M431.5 276.47 h4.2 M615 276.47 h-4.2 M431.5 241.55 h4.2 M615 241.55 h-4.2 M431.5 206.62 h4.2 M615 206.62 h-4.2 M431.5 259.01 h2.7 M615 259.01 h-2.7 M431.5 224.08 h2.7 M615 224.08 h-2.7 M431.5 189.16 h2.7 M615 189.16 h-2.7" stroke="#000" stroke-width="1.3" fill="none"/>
<rect x="431.5" y="171.7" width="24.1" height="19.8" fill="#fff" stroke="#111" stroke-width="1"/>
<text x="435.3" y="185.4" font-size="15.2" textLength="4.4" lengthAdjust="spacingAndGlyphs">(</text>
<text x="443.4" y="185.3" font-size="13.5" textLength="7.56" lengthAdjust="spacingAndGlyphs" text-anchor="middle">g</text>
<text x="446.6" y="185.4" font-size="15.2" textLength="4.4" lengthAdjust="spacingAndGlyphs">)</text>
<rect x="431.5" y="171.7" width="183.5" height="113.5" fill="none" stroke="#000" stroke-width="1.65"/>
<text x="462.08" y="301.2" font-size="15" text-anchor="middle">14</text>
<text x="502.86" y="301.2" font-size="15" text-anchor="middle">18</text>
<text x="543.64" y="301.2" font-size="15" text-anchor="middle">22</text>
<text x="584.42" y="301.2" font-size="15" text-anchor="middle">26</text>
<text x="478.55" y="323.5" font-size="13.2">Ω</text>
<text x="488.45" y="325.3" font-size="9.5">0</text>
<text x="498.65" y="323.5" font-size="13" textLength="32.5" lengthAdjust="spacingAndGlyphs">(units</text>
<text x="534.65" y="323.5" font-size="13" textLength="11.7" lengthAdjust="spacingAndGlyphs">of</text>
<text x="549.75" y="323.5" font-size="13" font-style="italic" textLength="8.8" lengthAdjust="spacingAndGlyphs">ω</text>
<text x="559.25" y="325.3" font-size="9.5">r</text>
<text x="563.15" y="323.5" font-size="13">)</text>
<clipPath id="cliph"><rect x="619.9" y="171.7" width="183.2" height="113.5"/></clipPath>
<g clip-path="url(#cliph)" fill="none">
<path d="M619.9 258.06 L623.01 257.29 L626.11 256.56 L629.22 255.88 L632.32 255.24 L635.43 254.65 L638.53 254.09 L641.64 253.58 L644.74 253.11 L647.85 252.67 L650.95 252.27 L654.06 251.9 L657.16 251.56 L660.27 251.26 L663.37 250.99 L666.48 250.74 L669.58 250.53 L672.69 250.34 L675.79 250.18 L678.9 250.04 L682 249.92 L685.11 249.83 L688.21 249.76 L691.32 249.71 L694.42 249.68 L697.53 249.67 L700.63 249.68 L703.74 249.7 L706.84 249.73 L709.95 249.79 L713.05 249.85 L716.16 249.93 L719.26 250.02 L722.37 250.12 L725.47 250.23 L728.58 250.35 L731.68 250.48 L734.79 250.62 L737.89 250.76 L741 250.91 L744.1 251.07 L747.21 251.23 L750.31 251.39 L753.42 251.56 L756.52 251.74 L759.63 251.91 L762.73 252.09 L765.84 252.27 L768.94 252.45 L772.05 252.63 L775.15 252.81 L778.26 252.99 L781.36 253.17 L784.47 253.35 L787.57 253.53 L790.68 253.7 L793.78 253.87 L796.89 254.04 L799.99 254.21 L803.1 254.37" stroke="#000" stroke-width="1.65"/>
<path d="M619.9 266.53 L623.01 266.68 L626.11 266.83 L629.22 266.97 L632.32 267.11 L635.43 267.25 L638.53 267.38 L641.64 267.51 L644.74 267.64 L647.85 267.77 L650.95 267.89 L654.06 268.02 L657.16 268.14 L660.27 268.25 L663.37 268.37 L666.48 268.48 L669.58 268.59 L672.69 268.7 L675.79 268.81 L678.9 268.92 L682 269.02 L685.11 269.12 L688.21 269.22 L691.32 269.31 L694.42 269.41 L697.53 269.5 L700.63 269.59 L703.74 269.68 L706.84 269.77 L709.95 269.85 L713.05 269.94 L716.16 270.02 L719.26 270.1 L722.37 270.18 L725.47 270.26 L728.58 270.34 L731.68 270.41 L734.79 270.48 L737.89 270.56 L741 270.63 L744.1 270.69 L747.21 270.76 L750.31 270.83 L753.42 270.89 L756.52 270.96 L759.63 271.02 L762.73 271.08 L765.84 271.15 L768.94 271.21 L772.05 271.26 L775.15 271.32 L778.26 271.38 L781.36 271.44 L784.47 271.49 L787.57 271.55 L790.68 271.6 L793.78 271.65 L796.89 271.7 L799.99 271.76 L803.1 271.81" stroke="#ff0000" stroke-width="1.65" stroke-dasharray="5.6 3.6"/>
<path d="M619.9 272.58 L622.15 272.39 L624.39 272.19 L626.64 271.98 L628.89 271.76 L631.14 271.53 L633.38 271.29 L635.63 271.04 L637.88 270.79 L640.13 270.53 L642.37 270.26 L644.62 269.99 L646.87 269.72 L649.12 269.44 L651.36 269.16 L653.61 268.87 L655.86 268.58 L658.11 268.29 L660.35 267.99 L662.6 267.69 L664.85 267.38 L667.1 267.07 L669.34 266.75 L671.59 266.43 L673.84 266.1 L676.09 265.77 L678.33 265.44 L680.58 265.1 L682.83 264.75 L685.08 264.4 L687.32 264.04 L689.57 263.68 L691.82 263.32 L694.07 262.95 L696.31 262.58 L698.56 262.21 L700.81 261.83 L703.06 261.46 L705.3 261.09 L707.55 260.72 L709.8 260.35 L712.05 259.99 L714.29 259.64 L716.54 259.3 L718.79 258.98 L721.04 258.66 L723.28 258.37 L725.53 258.1 L727.78 257.86 L730.03 257.64 L732.27 257.46 L734.52 257.31 L736.77 257.21 L739.02 257.16 L741.26 257.15 L743.51 257.21 L745.76 257.33 L748.01 257.53 L750.25 257.8 L752.5 258.16" stroke="#0000ff" stroke-width="1.65" stroke-dasharray="5.6 1.7 1.8 1.7"/>
<path d="M619.9 270 L623.01 269.61 L626.11 269.2 L629.22 268.75 L632.32 268.26 L635.43 267.75 L638.53 267.21 L641.64 266.63 L644.74 266.03 L647.85 265.4 L650.95 264.73 L654.06 264.04 L657.16 263.32 L660.27 262.57 L663.37 261.8 L666.48 261 L669.58 260.17 L672.69 259.31 L675.79 258.43 L678.9 257.53 L682 256.6 L685.11 255.64 L688.21 254.66 L691.32 253.66 L694.42 252.63 L697.53 251.58 L700.63 250.5 L703.74 249.41 L706.84 248.29 L709.95 247.15 L713.05 245.99 L716.16 244.81 L719.26 243.61 L722.37 242.39 L725.47 241.15 L728.58 239.89 L731.68 238.62 L734.79 237.32 L737.89 236.01 L741 234.68 L744.1 233.33 L747.21 231.97 L750.31 230.59 L753.42 229.19 L756.52 227.78 L759.63 226.35 L762.73 224.91 L765.84 223.46 L768.94 221.99 L772.05 220.51 L775.15 219.01 L778.26 217.5 L781.36 215.98 L784.47 214.45 L787.57 212.91 L790.68 211.35 L793.78 209.79 L796.89 208.22 L799.99 206.63 L803.1 205.04" stroke="#10a010" stroke-width="1.65" stroke-dasharray="1.9 1.46"/>
</g>
<path d="M639.18 171.7 v4.2 M639.18 285.2 v-4.2 M687.39 171.7 v4.2 M687.39 285.2 v-4.2 M735.61 171.7 v4.2 M735.61 285.2 v-4.2 M783.82 171.7 v4.2 M783.82 285.2 v-4.2 M663.29 171.7 v2.7 M663.29 285.2 v-2.7 M711.5 171.7 v2.7 M711.5 285.2 v-2.7 M759.71 171.7 v2.7 M759.71 285.2 v-2.7 M619.9 276.47 h4.2 M803.1 276.47 h-4.2 M619.9 241.55 h4.2 M803.1 241.55 h-4.2 M619.9 206.62 h4.2 M803.1 206.62 h-4.2 M619.9 267.74 h2.7 M803.1 267.74 h-2.7 M619.9 259.01 h2.7 M803.1 259.01 h-2.7 M619.9 250.28 h2.7 M803.1 250.28 h-2.7 M619.9 232.82 h2.7 M803.1 232.82 h-2.7 M619.9 224.08 h2.7 M803.1 224.08 h-2.7 M619.9 215.35 h2.7 M803.1 215.35 h-2.7 M619.9 197.89 h2.7 M803.1 197.89 h-2.7 M619.9 189.16 h2.7 M803.1 189.16 h-2.7 M619.9 180.43 h2.7 M803.1 180.43 h-2.7" stroke="#000" stroke-width="1.3" fill="none"/>
<rect x="673.4" y="171.7" width="129.7" height="29.5" fill="#fff" stroke="#222" stroke-width="0.8"/>
<rect x="619.9" y="171.7" width="24.1" height="19.8" fill="#fff" stroke="#111" stroke-width="1"/>
<text x="623.7" y="185.4" font-size="15.2" textLength="4.4" lengthAdjust="spacingAndGlyphs">(</text>
<text x="631.8" y="185.3" font-size="13.5" textLength="7.56" lengthAdjust="spacingAndGlyphs" text-anchor="middle">h</text>
<text x="635" y="185.4" font-size="15.2" textLength="4.4" lengthAdjust="spacingAndGlyphs">)</text>
<rect x="619.9" y="171.7" width="183.2" height="113.5" fill="none" stroke="#000" stroke-width="1.65"/>
<text x="639.18" y="301.2" font-size="15" text-anchor="middle">22</text>
<text x="687.39" y="301.2" font-size="15" text-anchor="middle">27</text>
<text x="735.61" y="301.2" font-size="15" text-anchor="middle">32</text>
<text x="783.82" y="301.2" font-size="15" text-anchor="middle">37</text>
<text x="666.8" y="323.5" font-size="13.2">Ω</text>
<text x="676.7" y="325.3" font-size="9.5">0</text>
<text x="686.9" y="323.5" font-size="13" textLength="32.5" lengthAdjust="spacingAndGlyphs">(units</text>
<text x="722.9" y="323.5" font-size="13" textLength="11.7" lengthAdjust="spacingAndGlyphs">of</text>
<text x="738" y="323.5" font-size="13" font-style="italic" textLength="8.8" lengthAdjust="spacingAndGlyphs">ω</text>
<text x="747.5" y="325.3" font-size="9.5">r</text>
<text x="751.4" y="323.5" font-size="13">)</text>
<text x="48.6" y="281.57" font-size="15" text-anchor="end">0</text>
<text x="48.6" y="246.65" font-size="15" text-anchor="end">2</text>
<text x="48.6" y="211.72" font-size="15" text-anchor="end">4</text>
<text x="48.6" y="176.8" font-size="15" text-anchor="end">6</text>
<g transform="translate(25.2,118.9) rotate(-90)" fill="#000">
<text x="0.3" y="0" font-size="13" font-style="italic">x</text>
<text x="7.4" y="2.5" font-size="9.2" font-style="italic">N</text>
<text x="15.1" y="2.6" font-size="11" textLength="7" lengthAdjust="spacingAndGlyphs">±</text>
<text x="23.6" y="0" font-size="13">(</text>
<text x="29" y="0" font-size="13.2">Ω</text>
<text x="39.4" y="1.9" font-size="9.5">0</text>
<text x="44.8" y="0" font-size="13">)</text>
</g>
<g transform="translate(32.7,285.2) rotate(-90)" fill="#000">
<text x="0" y="0" font-size="13" font-style="italic">y</text>
<text x="6.8" y="2.5" font-size="9.2" font-style="italic">N</text>
<text x="14.6" y="2.6" font-size="10.5" textLength="6.4" lengthAdjust="spacingAndGlyphs">±</text>
<text x="22.2" y="0" font-size="13">(</text>
<text x="27.4" y="0" font-size="13.2">Ω</text>
<text x="37.4" y="1.9" font-size="9.5">0</text>
<text x="42.8" y="0" font-size="13">)</text>
<text x="53.2" y="1.4" font-size="15" textLength="6.8" lengthAdjust="spacingAndGlyphs">/</text>
<text x="64.8" y="0" font-size="13" font-style="italic">z</text>
<text x="70.8" y="2.5" font-size="9.2" font-style="italic">N</text>
<text x="77.6" y="2.5" font-size="9.2">,</text>
<text x="79.7" y="2.6" font-size="9.6">Θ</text>
<text x="86.8" y="0" font-size="13">(</text>
<text x="91.9" y="0" font-size="13.2">Ω</text>
<text x="102.2" y="1.9" font-size="9.5">0</text>
<text x="109.6" y="0" font-size="13">)</text>
</g>
<path d="M739.1 130.7 H770.2" stroke="#000" stroke-width="1.65"/>
<path d="M739.1 141.2 H770.2" stroke="#ff0000" stroke-width="1.65" stroke-dasharray="5.3 3.8"/>
<text x="774" y="132.5" font-size="11.5" font-style="italic">x</text>
<text x="780" y="134.2" font-size="7.4" font-style="italic" textLength="7.4" lengthAdjust="spacingAndGlyphs">N</text>
<text x="788" y="134" font-size="8" textLength="5.8" lengthAdjust="spacingAndGlyphs">+</text>
<text x="774" y="143" font-size="11.5" font-style="italic">x</text>
<text x="780" y="144.7" font-size="7.4" font-style="italic" textLength="7.4" lengthAdjust="spacingAndGlyphs">N</text>
<text x="788" y="144.5" font-size="8" textLength="5.8" lengthAdjust="spacingAndGlyphs">−</text>
<path d="M679.3 181.1 H710.9" stroke="#000" stroke-width="1.65"/>
<path d="M679.3 192.2 H710.9" stroke="#ff0000" stroke-width="1.65" stroke-dasharray="5.3 3.8"/>
<path d="M737.0 181.1 H768.0" stroke="#0000ff" stroke-width="1.65" stroke-dasharray="5.6 1.7 1.8 1.7"/>
<path d="M737.0 192.2 H769.2" stroke="#10a010" stroke-width="1.65" stroke-dasharray="1.9 1.46"/>
<text x="714.4" y="183.5" font-size="10.8" font-style="italic">y</text>
<text x="720" y="184.7" font-size="7.4" font-style="italic" textLength="6.6" lengthAdjust="spacingAndGlyphs">N</text>
<text x="727.4" y="184.6" font-size="8" textLength="6" lengthAdjust="spacingAndGlyphs">+</text>
<text x="714.4" y="194.6" font-size="10.8" font-style="italic">y</text>
<text x="720" y="195.8" font-size="7.4" font-style="italic" textLength="6.6" lengthAdjust="spacingAndGlyphs">N</text>
<text x="727.4" y="195.7" font-size="8" textLength="6" lengthAdjust="spacingAndGlyphs">−</text>
<text x="772.58" y="183.6" font-size="10.8" font-style="italic">z</text>
<text x="777.22" y="184.7" font-size="7.4" font-style="italic" textLength="6.6" lengthAdjust="spacingAndGlyphs">N</text>
<text x="784.5" y="184.7" font-size="8">,</text>
<text x="773" y="194.7" font-size="10.8" font-style="italic">z</text>
<text x="778.2" y="195.8" font-size="7.4" font-style="italic" textLength="6.6" lengthAdjust="spacingAndGlyphs">N</text>
<text x="785.2" y="195.8" font-size="8">,</text>
<text x="788.5" y="181" font-size="6" textLength="4.4" lengthAdjust="spacingAndGlyphs">π</text>
<path d="M788.5 181.75 H793.1" stroke="#333" stroke-width="0.55"/>
<text x="789.3" y="185.9" font-size="5.2">2</text>
<text x="788.3" y="195.2" font-size="9" textLength="4.9" lengthAdjust="spacingAndGlyphs">π</text>
</g></svg>
</body></html>
